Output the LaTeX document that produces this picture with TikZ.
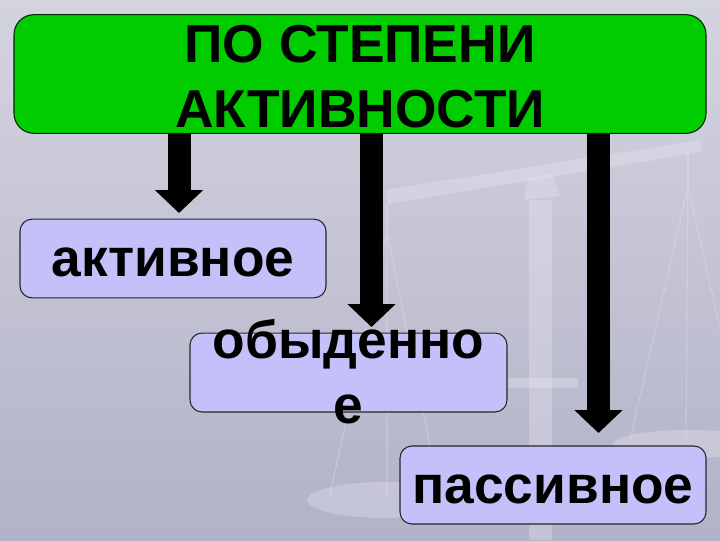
\documentclass[tikz,border=0pt]{standalone}
\usepackage{fontspec}
\setmainfont{Liberation Sans}
\usetikzlibrary{arrows.meta}
\definecolor{bgtop}{RGB}{212,212,224}
\definecolor{bgmid}{RGB}{226,226,229}
\definecolor{bgbot}{RGB}{178,178,200}
\definecolor{headgreen}{RGB}{0,204,0}
\definecolor{kindlilac}{RGB}{196,193,250}
\definecolor{scaleghost}{RGB}{236,236,246}

\begin{document}
\begin{tikzpicture}[x=0.75pt,y=0.75pt,yscale=-1,xscale=1,
  bigfont/.style={font=\fontsize{40}{48.75}\selectfont\bfseries},
  headbox/.style={bigfont,draw=black!85!green,line width=0.8pt,fill=headgreen,rounded corners=15pt,
    inner sep=0pt,minimum width=519pt,minimum height=89pt,align=center,text height=84.25pt,text depth=4.75pt},
  kindbox/.style={bigfont,draw=black!85,line width=0.8pt,fill=kindlilac,rounded corners=9pt,
    inner sep=0pt,minimum width=229.5pt,minimum height=59pt,text height=36pt,text depth=8.4pt},
  bigarrow/.style={line width=17.25pt,-{Triangle[width=35.25pt,length=17.25pt]}},
  ghost/.style={scaleghost,opacity=0.3}]
\useasboundingbox (0,0) rectangle (720,540);
% background
\shade[top color=bgtop,middle color=bgmid,bottom color=bgbot] (0,0) rectangle (720,540);
% faint scales
\fill[ghost] (385,190) -- (700,140) -- (703,152) -- (388,204) -- cycle;
\fill[ghost] (528,178) -- (552,174) -- (560,196) -- (524,200) -- cycle;
\fill[ghost] (529,200) rectangle (552,540);
\fill[ghost] (508,378) rectangle (578,388);
\draw[ghost,line width=2pt] (387,204) -- (387,232);
\draw[ghost,line width=2pt] (688,152) -- (688,186);
\draw[ghost,line width=0.8pt] (387,232) -- (330,495) (387,232) -- (440,495) (387,232) -- (387,495);
\draw[ghost,line width=0.8pt] (688,186) -- (630,440) (688,186) -- (745,440) (688,186) -- (686,440);
\fill[ghost] (385,500) ellipse [x radius=78,y radius=18];
\fill[ghost] (688,444) ellipse [x radius=75,y radius=14];
% boxes
\node[headbox] (degree) at (360,74) {ПО СТЕПЕНИ\\АКТИВНОСТИ};
\node[kindbox] (active) at (173,258.5) {активное};
\node[kindbox,minimum width=237.75pt,align=center,text height=75.8pt,text depth=0pt,inner ysep=-8.3pt] (ordinary) at (348.5,372.5) {обыденно\\е};
\node[kindbox,minimum height=58.5pt] (passive) at (553,485) {пассивное};
% arrows
\coordinate (tipa) at (179,213);
\coordinate (tipo) at (371.5,327);
\coordinate (tipp) at (598.5,433);
\draw[bigarrow] (degree.south -| tipa) -- (tipa);
\draw[bigarrow] (degree.south -| tipo) -- (tipo);
\draw[bigarrow] (degree.south -| tipp) -- (tipp);
\end{tikzpicture}
\end{document}
